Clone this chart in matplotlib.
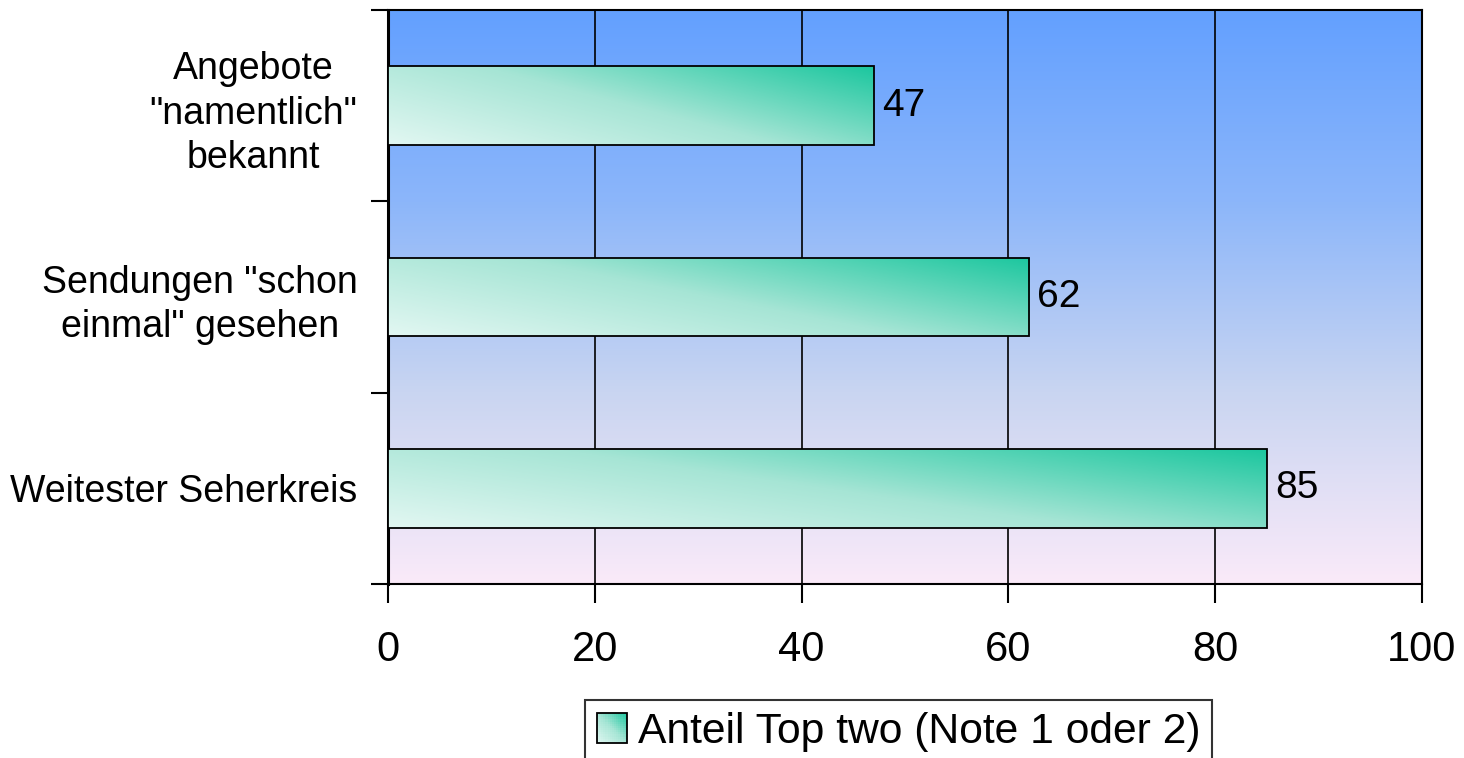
import numpy as np
import matplotlib
matplotlib.use("Agg")
import matplotlib.pyplot as plt
from matplotlib.colors import LinearSegmentedColormap
from matplotlib.patches import Rectangle
from matplotlib.legend_handler import HandlerBase

# Data
categories = ['Angebote\n"namentlich"\nbekannt',
              'Sendungen "schon\neinmal" gesehen',
              'Weitester Seherkreis']
values = [47, 62, 85]
series_name = 'Anteil Top two (Note 1 oder 2)'
x_ticks = [0, 20, 40, 60, 80, 100]

plt.rcParams['font.family'] = ['Liberation Sans', 'DejaVu Sans']

W, H = 1464, 758
fig = plt.figure(figsize=(W / 100, H / 100), dpi=100)
rect = [388 / W, 1 - 584 / H, (1422 - 388) / W, (584 - 10) / H]

# Background gradient of the plotting area (blue at top, pale pink at bottom)
bg_cmap = LinearSegmentedColormap.from_list(
    'bg', ['#faeaf9', '#c9d5f1', '#8cb6fa', '#63a0ff'])
bg_ax = fig.add_axes(rect, zorder=0)
grad = np.linspace(0, 1, 256).reshape(-1, 1)
bg_ax.imshow(grad, cmap=bg_cmap, aspect='auto', origin='lower',
             extent=[0, 1, 0, 1])
bg_ax.set_axis_off()

ax = fig.add_axes(rect, zorder=1)
ax.set_facecolor('none')

# Bars with diagonal gradient fill
bar_cmap = LinearSegmentedColormap.from_list(
    'bar', ['#e2f7f2', '#a6e5d5', '#1cc79f'])
bar_h = 0.41
ypos = np.arange(len(categories))
bars = ax.barh(ypos, values, height=bar_h, facecolor='none',
               edgecolor='black', linewidth=1.3, zorder=4)
nr, nc = 60, 300
xf = np.linspace(0, 1, nc)[None, :]
yf = np.linspace(1, 0, nr)[:, None]
tgrid = 0.62 * xf + 0.38 * yf
for y, v, b in zip(ypos, values, bars):
    im = ax.imshow(tgrid, cmap=bar_cmap, vmin=0, vmax=1, aspect='auto',
                   origin='upper', interpolation='bilinear',
                   extent=(0, v, y + bar_h / 2, y - bar_h / 2), zorder=3)
    im.set_clip_path(b)
    ax.text(v + 0.8, y, str(v), va='center', ha='left', fontsize=28,
            zorder=5)

ax.set_xlim(0, 100)
ax.set_ylim(len(categories) - 0.5, -0.5)
ax.set_aspect('auto')

# Axes styling
ax.set_xticks(x_ticks)
ax.set_xticklabels([str(t) for t in x_ticks])
ax.tick_params(axis='x', direction='out', length=14, width=1.5,
               labelsize=30, pad=19, color='black')
ax.set_yticks(ypos)
ax.set_yticklabels(categories)
ax.set_yticks(np.arange(-0.5, len(categories), 1.0), minor=True)
ax.tick_params(axis='y', which='major', length=0, labelsize=27, pad=22)
ax.tick_params(axis='y', which='minor', direction='out', length=12,
               width=1.5, color='black')
for lbl in ax.get_yticklabels():
    lbl.set_multialignment('center')
    lbl.set_linespacing(1.3)

ax.xaxis.grid(True, color='black', linewidth=1.2, zorder=1)
ax.set_axisbelow(True)
for name, sp in ax.spines.items():
    sp.set_color('black')
    sp.set_linewidth(1.5)
ax.spines['left'].set_linewidth(2.2)


# Legend with a gradient swatch
class GradientSwatch(HandlerBase):
    def create_artists(self, legend, orig_handle, xdescent, ydescent,
                       width, height, fontsize, trans):
        n = 14
        size = min(width, height)
        x0 = -xdescent + (width - size) / 2
        y0 = -ydescent + (height - size) / 2
        arts = []
        for i in range(n):
            for j in range(n):
                t = 0.5 * (i + 0.5) / n + 0.5 * (j + 0.5) / n
                arts.append(Rectangle((x0 + i * size / n, y0 + j * size / n),
                                      size / n * 1.05, size / n * 1.05,
                                      facecolor=bar_cmap(t), edgecolor='none',
                                      antialiased=False, transform=trans))
        arts.append(Rectangle((x0, y0), size, size, facecolor='none',
                              edgecolor='black', linewidth=1.3,
                              transform=trans))
        return arts


proxy = Rectangle((0, 0), 1, 1)
leg = fig.legend(handles=[proxy], labels=[series_name],
                 handler_map={proxy: GradientSwatch()},
                 loc='upper left', bbox_to_anchor=(585 / W, 1 - 700 / H),
                 borderaxespad=0, fontsize=30.7, frameon=True, fancybox=False,
                 handlelength=0.7, handleheight=0.7, handletextpad=0.26,
                 borderpad=0.28)
leg.get_frame().set_edgecolor('black')
leg.get_frame().set_linewidth(1.5)

fig.savefig('out.png', dpi=100)
